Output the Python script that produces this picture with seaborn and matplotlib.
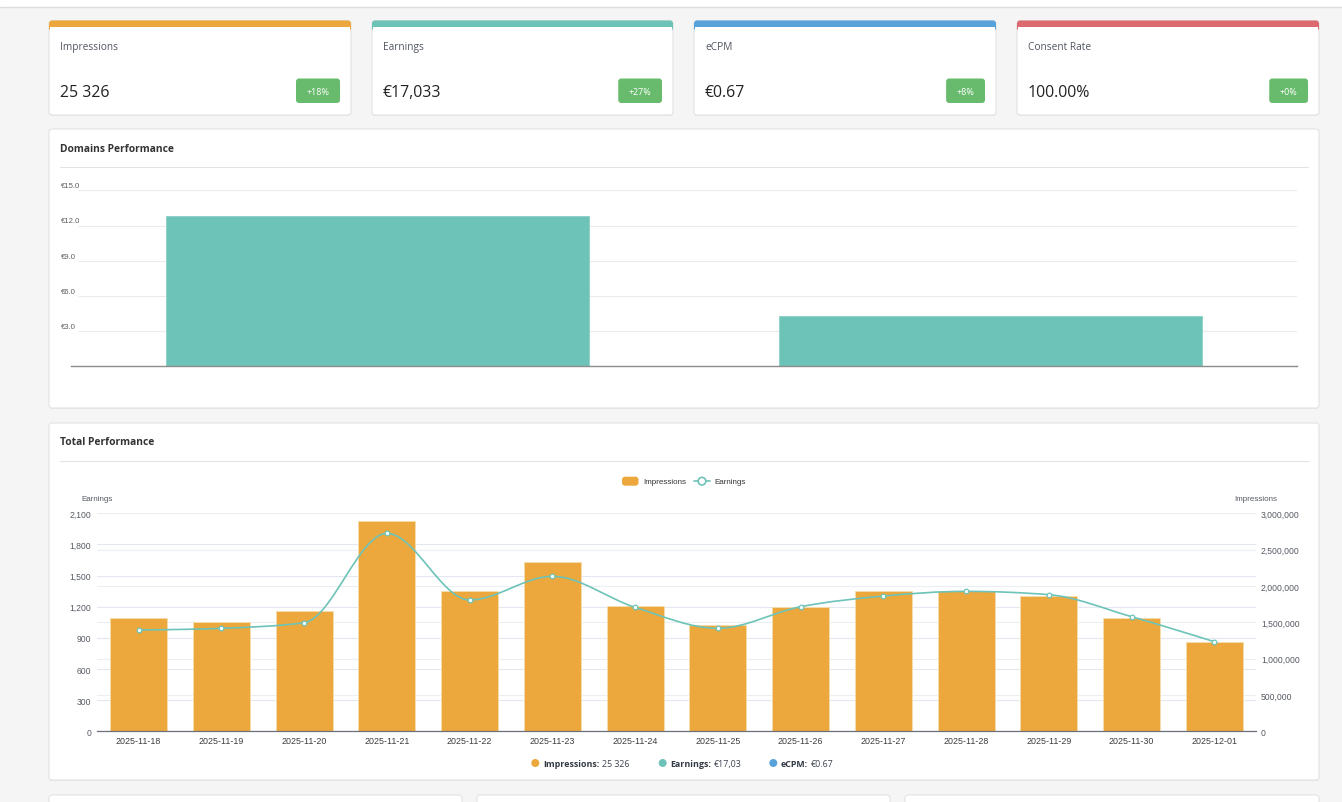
import numpy as np
import matplotlib
matplotlib.use("Agg")
import matplotlib.pyplot as plt
from matplotlib.patches import FancyBboxPatch, Rectangle, Circle, PathPatch
from matplotlib.path import Path
from matplotlib.lines import Line2D
from matplotlib.ticker import FixedLocator, FuncFormatter
from matplotlib.transforms import IdentityTransform, blended_transform_factory, offset_copy
import seaborn as sns

# ---------------- data ----------------
KPI_TITLES = ["Impressions", "Earnings", "eCPM", "Consent Rate"]
KPI_VALUES = ["25 326", "€17,033", "€0.67", "100.00%"]
KPI_CHANGES = ["+18%", "+27%", "+8%", "+0%"]

DOMAINS = ["Domain 1", "Domain 2"]
DOMAIN_EARNINGS = [12.78, 4.25]
DOMAIN_TICKS = [3.0, 6.0, 9.0, 12.0, 15.0]

DATES = ["2025-11-18", "2025-11-19", "2025-11-20", "2025-11-21", "2025-11-22",
         "2025-11-23", "2025-11-24", "2025-11-25", "2025-11-26", "2025-11-27",
         "2025-11-28", "2025-11-29", "2025-11-30", "2025-12-01"]
IMPRESSIONS = [1555000, 1504000, 1660000, 2890000, 1931000, 2326000, 1724000,
               1459000, 1706000, 1927000, 1930000, 1862000, 1565000, 1229000]
EARNINGS = [976, 992, 1046, 1907, 1265, 1493, 1194, 992, 1200, 1303, 1348,
            1316, 1104, 863]
EARN_TICKS = [0, 300, 600, 900, 1200, 1500, 1800, 2100]
IMPR_TICKS = [0, 500000, 1000000, 1500000, 2000000, 2500000, 3000000]

SUMMARY_LABELS = ["Impressions:", "Earnings:", "eCPM:"]
SUMMARY_VALUES = ["25 326", "€17,03", "€0.67"]

# ---------------- style ----------------
ORANGE = "#eca83c"
TEAL = "#6dc3b8"
BLUE = "#58a2dc"
RED = "#dc6b70"
GREEN = "#68bb6c"
CARD_COLORS = [ORANGE, TEAL, BLUE, RED]
SUMMARY_COLORS = [ORANGE, TEAL, BLUE]
UI_FONT = ["Open Sans", "DejaVu Sans"]
CH_FONT = ["Liberation Sans", "DejaVu Sans"]
AXIS_GRAY = "#6e7079"

sns.set_style("white")
plt.rcParams["font.family"] = UI_FONT

W, H = 1342, 803
fig = plt.figure(figsize=(W / 100, H / 100), dpi=100)
fig.patch.set_facecolor("#f5f5f5")
ID = IdentityTransform()
renderer = fig.canvas.get_renderer()


def rbox(x0, y0, x1, y1, fc, ec="none", lw=0.0, r=3, z=-10):
    p = FancyBboxPatch((x0, H - y1), x1 - x0, y1 - y0,
                       boxstyle=f"round,pad=0,rounding_size={r}",
                       fc=fc, ec=ec, lw=lw, transform=ID, zorder=z)
    fig.add_artist(p)
    return p


def rect(x0, y0, x1, y1, fc, z=-10):
    p = Rectangle((x0, H - y1), x1 - x0, y1 - y0, fc=fc, ec="none",
                  transform=ID, zorder=z)
    fig.add_artist(p)


def hline(x0, x1, y, color, lw=0.8, z=-5):
    fig.add_artist(Line2D([x0, x1], [H - y, H - y], transform=ID,
                          color=color, lw=lw, zorder=z))


def ptext(x, y, s, **kw):
    return fig.text(x, H - y, s, transform=ID, **kw)


def axrect(x0, y0, x1, y1):
    return [x0 / W, 1 - y1 / H, (x1 - x0) / W, (y1 - y0) / H]


def card(x0, y0, x1, y1):
    rbox(x0, y0 + 1, x1, y1 + 1, fc="#e9e9e9", z=-12)
    rbox(x0, y0, x1, y1, fc="white", ec="#e0e0e0", lw=0.7, z=-11)


# header strip
rect(0, 0, W, 7.5, "white", z=-13)
hline(0, W, 7.5, "#dcdcdc", lw=1.0, z=-12)

# ---------------- KPI cards ----------------
card_x = [(49, 351), (372, 673), (694, 996), (1017, 1319)]
for (x0, x1), title, val, chg, col in zip(card_x, KPI_TITLES, KPI_VALUES,
                                            KPI_CHANGES, CARD_COLORS):
    card(x0, 21.5, x1, 116)
    rbox(x0, 21.5, x1, 32, fc=col, z=-10)
    rect(x0 + 0.7, 28, x1 - 0.7, 34, "white", z=-9)
    ptext(x0 + 11, 47.5, title, ha="left", va="center", fontsize=7.3,
          color="#505560")
    ptext(x0 + 11, 93.3, val, ha="left", va="center", fontsize=11.4,
          color="#222222")
    t = ptext(0, 0, chg, fontsize=6.4, color="white", ha="center",
              va="center")
    tw = t.get_window_extent(renderer).width
    bw = tw + 21
    bx1 = x1 - 11
    bx0 = bx1 - bw
    rbox(bx0, 79.5, bx1, 104, fc=GREEN, r=3, z=-8)
    t.set_position((bx0 + bw / 2, H - 92.3))

# ---------------- Domains Performance ----------------
card(49, 130, 1319, 409)
ptext(60, 149.5, "Domains Performance", ha="left", va="center", fontsize=7.4,
      fontweight="bold", color="#333333")
hline(60, 1308, 168, "#e3e3e3", lw=0.8)

ax_d = fig.add_axes(axrect(71, 191.3, 1297, 367.3))
ax_d.patch.set_visible(False)
sns.barplot(x=DOMAINS, y=DOMAIN_EARNINGS, ax=ax_d, color=TEAL, saturation=1,
            width=0.69, errorbar=None, edgecolor="#8ad0c6", linewidth=0.6,
            zorder=2)
ax_d.set_xlim(-0.5, 1.5)
ax_d.set_ylim(0, 15)
ax_d.hlines(DOMAIN_TICKS, 0.006, 1, transform=ax_d.get_yaxis_transform(),
            color="#ebebeb", lw=0.8, zorder=0.5)
for s in ["top", "left", "right"]:
    ax_d.spines[s].set_visible(False)
ax_d.spines["bottom"].set_color("#8c8c8c")
ax_d.spines["bottom"].set_linewidth(1.0)
ax_d.set_yticks([])
ax_d.tick_params(axis="x", length=2, color="#c8c8c8", labelbottom=False)
ax_d.set_xlabel("")
ax_d.set_ylabel("")
lab_tr = offset_copy(blended_transform_factory(ID, ax_d.transData), fig=fig,
                     y=1.0, units="dots")
for v in DOMAIN_TICKS:
    ax_d.text(61, v, f"€{v:.1f}", transform=lab_tr, ha="left", va="bottom",
              fontsize=5.6, color="#5e5e5e", family=CH_FONT)

# ---------------- Total Performance ----------------
card(49, 424, 1319, 781)
ptext(60, 442.5, "Total Performance", ha="left", va="center", fontsize=7.4,
      fontweight="bold", color="#333333")
hline(60, 1308, 462, "#e3e3e3", lw=0.8)

r_total = axrect(97.3, 514.3, 1255.7, 732.3)
ax_g = fig.add_axes(r_total, zorder=0.1)
ax_b = fig.add_axes(r_total, zorder=0.2)
ax_l = fig.add_axes(r_total, zorder=0.3)
n = len(DATES)

# grid + left labels (Earnings)
ax_g.set_xlim(-0.5, n - 0.5)
ax_g.set_ylim(0, 2100)
ax_g.set_xticks([])
ax_g.set_yticks(EARN_TICKS)
ax_g.yaxis.set_major_formatter(FuncFormatter(lambda v, p: f"{int(v):,}"))
ax_g.grid(axis="y", color="#e4e7ef", lw=0.8)
ax_g.tick_params(axis="y", length=0, pad=4.3, labelsize=6.2,
                 labelcolor="#555a63")
for lbl in ax_g.get_yticklabels():
    lbl.set_family(CH_FONT)
for s in ax_g.spines.values():
    s.set_visible(False)
ax_g.patch.set_visible(False)

# bars (Impressions) + right labels
ax_b.patch.set_visible(False)
sns.barplot(x=DATES, y=IMPRESSIONS, ax=ax_b, color=ORANGE, saturation=1,
            width=0.69, errorbar=None, edgecolor="#f6dbab", linewidth=0.7,
            zorder=2)
ax_b.set_xlim(-0.5, n - 0.5)
ax_b.set_ylim(0, 3000000)
ax_b.set_xlabel("")
ax_b.set_ylabel("")
ax_b.yaxis.tick_right()
ax_b.set_yticks(IMPR_TICKS)
ax_b.yaxis.set_major_formatter(FuncFormatter(lambda v, p: f"{int(v):,}"))
ax_b.set_axisbelow(True)
ax_b.grid(axis="y", color="#eceef4", lw=0.8)
ax_b.grid(axis="x", visible=False)
ax_b.tick_params(axis="y", length=0, pad=3.8, labelsize=6.2,
                 labelcolor="#555a63")
ax_b.tick_params(axis="x", which="major", length=0, pad=3.2, labelsize=6.4,
                 labelcolor="#3c3c3c")
ax_b.xaxis.set_minor_locator(FixedLocator(np.arange(n + 1) - 0.5))
ax_b.tick_params(axis="x", which="minor", length=3.6, width=0.8,
                 color=AXIS_GRAY, direction="out")
for lbl in ax_b.get_xticklabels() + ax_b.get_yticklabels():
    lbl.set_family(CH_FONT)
for s in ["top", "left", "right"]:
    ax_b.spines[s].set_visible(False)
ax_b.spines["bottom"].set_color(AXIS_GRAY)
ax_b.spines["bottom"].set_linewidth(0.9)

# smoothed (monotone cubic) line for Earnings
try:
    xpos = np.asarray(ax_b.xaxis.convert_units(DATES), dtype=float)
except Exception:
    xpos = np.arange(n, dtype=float)
ax_l.set_xlim(-0.5, n - 0.5)
ax_l.set_ylim(0, 2100)
ax_l.axis("off")
ax_l.patch.set_visible(False)

yv = np.asarray(EARNINGS, dtype=float)
h = np.diff(xpos)
sec = np.diff(yv) / h
tang = np.zeros(n)
for i in range(1, n - 1):
    s0, s1 = sec[i - 1], sec[i]
    p = (s0 * h[i] + s1 * h[i - 1]) / (h[i - 1] + h[i])
    tang[i] = (np.sign(s0) + np.sign(s1)) * min(abs(s0), abs(s1), 0.5 * abs(p))
tang[0] = (3 * sec[0] - tang[1]) / 2
tang[-1] = (3 * sec[-1] - tang[-2]) / 2
verts = [(xpos[0], yv[0])]
codes = [Path.MOVETO]
for i in range(n - 1):
    dx = h[i] / 3
    verts += [(xpos[i] + dx, yv[i] + dx * tang[i]),
              (xpos[i + 1] - dx, yv[i + 1] - dx * tang[i + 1]),
              (xpos[i + 1], yv[i + 1])]
    codes += [Path.CURVE4] * 3
ax_l.add_patch(PathPatch(Path(verts, codes), fc="none", ec=TEAL, lw=1.2,
                         zorder=3))
sns.scatterplot(x=xpos, y=EARNINGS, ax=ax_l, s=11, color="white",
                edgecolor=TEAL, linewidth=0.9, zorder=4, legend=False)
ax_l.set_xlim(-0.5, n - 0.5)
ax_l.set_ylim(0, 2100)

# axis names
ptext(96.7, 500, "Earnings", ha="center", va="center", fontsize=5.8,
      color="#555a63", family=CH_FONT)
ptext(1255.5, 500, "Impressions", ha="center", va="center", fontsize=5.8,
      color="#555a63", family=CH_FONT)

# top legend
rbox(622, 477.7, 638.5, 486.7, fc=ORANGE, r=3, z=5)
ptext(643, 482.2, "Impressions", ha="left", va="center", fontsize=5.75,
      color="#333333", family=CH_FONT)
fig.add_artist(Line2D([694, 710], [H - 482.2, H - 482.2], transform=ID,
                      color=TEAL, lw=1.2, zorder=5))
fig.add_artist(Circle((702, H - 482.2), 3.8, transform=ID, fc="white",
                      ec=TEAL, lw=1.2, zorder=6))
ptext(714, 482.2, "Earnings", ha="left", va="center", fontsize=5.75,
      color="#333333", family=CH_FONT)

# bottom summary
dot_x = [535.3, 662.7, 773.3]
for dx, lab, val, col in zip(dot_x, SUMMARY_LABELS, SUMMARY_VALUES,
                             SUMMARY_COLORS):
    fig.add_artist(Circle((dx, H - 764), 4.0, transform=ID, fc=col,
                          ec="none", zorder=5))
    t = ptext(dx + 7.5, 765, lab, ha="left", va="center", fontsize=6.4,
              fontweight="bold", color="#333a44")
    bb = t.get_window_extent(renderer)
    ptext(bb.x1 + 2.5, 765, val, ha="left", va="center", fontsize=6.4,
          color="#3d4450")

# cards below (partially visible)
for x0, x1 in [(49, 462), (477, 890), (905, 1319)]:
    rbox(x0, 796, x1, 830, fc="white", ec="#e0e0e0", lw=0.7, z=-11)

fig.savefig("out.png", dpi=100, facecolor=fig.get_facecolor())
